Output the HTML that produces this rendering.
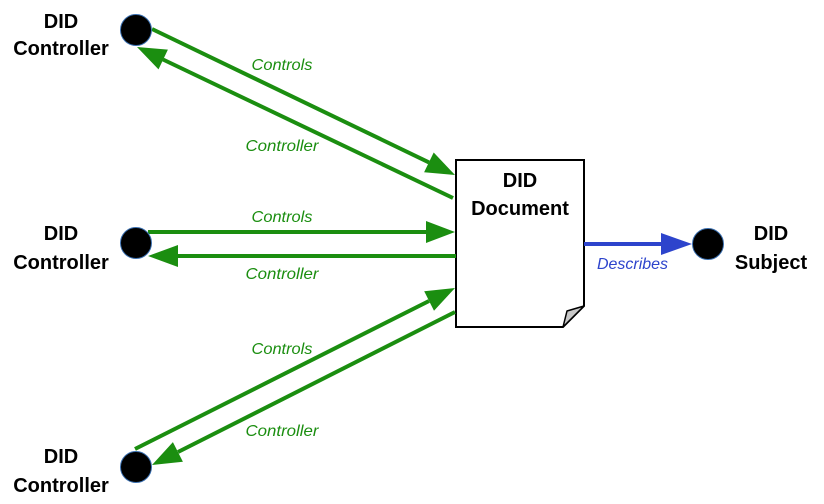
<!DOCTYPE html>
<html>
<head>
<meta charset="utf-8">
<style>
  html, body { margin: 0; padding: 0; background: #ffffff; }
  svg { display: block; }
  .big { font-family: "Liberation Sans", sans-serif; font-weight: bold; font-size: 20px; fill: #000; }
  .lbl { font-family: "Liberation Sans", sans-serif; font-style: italic; font-size: 16px; fill: #1b8e10; }
  .blbl { font-family: "Liberation Sans", sans-serif; font-style: italic; font-size: 16px; fill: #2d44cc; }
</style>
</head>
<body>
<svg width="824" height="504" viewBox="0 0 824 504" xmlns="http://www.w3.org/2000/svg">
  <rect x="0" y="0" width="824" height="504" fill="#ffffff"/>

  <!-- Document box -->
  <path d="M456,160 H584 V306 L563,327 H456 Z" fill="#ffffff" stroke="#000" stroke-width="2"/>
  <path d="M584,306 L567,311 L563,327 Z" fill="#c8c8c8" stroke="#000" stroke-width="1.5" stroke-linejoin="round"/>

  <!-- Green arrows -->
  <g stroke="#1b8e10" stroke-width="4" fill="none">
    <line x1="152" y1="29" x2="429" y2="162.4"/>
    <line x1="453" y1="198" x2="163" y2="59.5"/>
    <line x1="148" y1="232" x2="427" y2="232"/>
    <line x1="456" y1="256" x2="177" y2="256"/>
    <line x1="135" y1="449" x2="429" y2="301"/>
    <line x1="455" y1="312" x2="178" y2="452"/>
  </g>
  <g fill="#1b8e10">
    <polygon points="455,175 424.1,172.3 433.7,152.5"/>
    <polygon points="137,47 167.9,49.6 158.5,69.4"/>
    <polygon points="455,232 426,221 426,243"/>
    <polygon points="148,256 178,245 178,267"/>
    <polygon points="455,288 434,310.8 424.2,291.2"/>
    <polygon points="152,465 182.9,461.7 172.9,442.1"/>
  </g>

  <!-- Blue arrow -->
  <line x1="584" y1="244" x2="663" y2="244" stroke="#2d44cc" stroke-width="4"/>
  <polygon points="692,244 661,233 661,255" fill="#2d44cc"/>

  <!-- Circles -->
  <g fill="#000" stroke="#3a6fb0" stroke-width="1">
    <circle cx="136" cy="30" r="15.5"/>
    <circle cx="136" cy="243" r="15.5"/>
    <circle cx="136" cy="467" r="15.5"/>
    <circle cx="708" cy="244" r="15.5"/>
  </g>

  <!-- Node labels -->
  <g class="big" text-anchor="middle">
    <text x="61" y="28">DID</text>
    <text x="61" y="55">Controller</text>
    <text x="61" y="240">DID</text>
    <text x="61" y="269">Controller</text>
    <text x="61" y="463">DID</text>
    <text x="61" y="492">Controller</text>
    <text x="520" y="187">DID</text>
    <text x="520" y="215">Document</text>
    <text x="771" y="240">DID</text>
    <text x="771" y="269">Subject</text>
  </g>

  <!-- Edge labels -->
  <g class="lbl" text-anchor="middle">
    <text x="282" y="70" textLength="61" lengthAdjust="spacingAndGlyphs">Controls</text>
    <text x="282" y="151" textLength="73" lengthAdjust="spacingAndGlyphs">Controller</text>
    <text x="282" y="222" textLength="61" lengthAdjust="spacingAndGlyphs">Controls</text>
    <text x="282" y="279" textLength="73" lengthAdjust="spacingAndGlyphs">Controller</text>
    <text x="282" y="354" textLength="61" lengthAdjust="spacingAndGlyphs">Controls</text>
    <text x="282" y="436" textLength="73" lengthAdjust="spacingAndGlyphs">Controller</text>
  </g>
  <text class="blbl" x="632.5" y="269" text-anchor="middle" textLength="71" lengthAdjust="spacingAndGlyphs">Describes</text>
</svg>
</body>
</html>
